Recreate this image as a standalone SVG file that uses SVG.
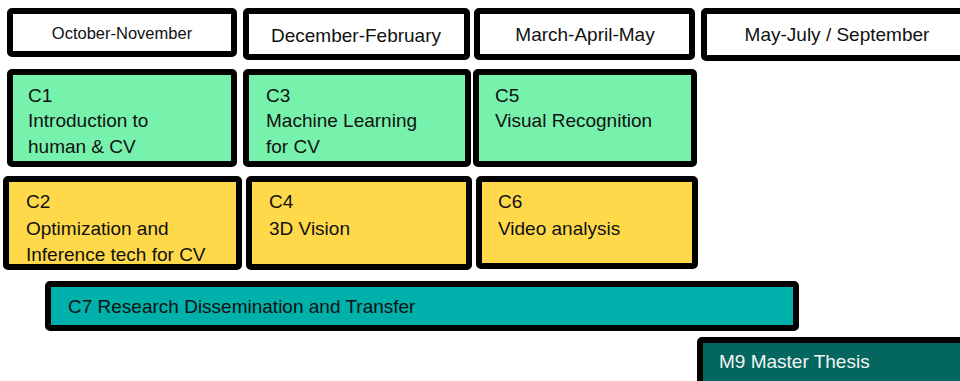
<svg xmlns="http://www.w3.org/2000/svg" width="960" height="381" viewBox="0 0 960 381">
<style>
.box{stroke:#000;stroke-width:6;stroke-linejoin:round}
.hdr{fill:#fff}
.g{fill:#77f2ad}
.y{fill:#ffd94a}
.t{fill:#00b0aa}
.m{fill:#03665f}
text{font-family:"Liberation Sans",Arial,sans-serif;font-size:19px;fill:#111}
.c{text-anchor:middle}
.w{fill:#f4f4f4}
</style>
<rect width="960" height="381" fill="#fff"/>
<g id="h1"><rect class="box hdr" x="10" y="11" width="224" height="43" rx="2"/><text class="c" x="122" y="39" style="font-size:16.5px">October-November</text></g>
<g id="h2"><rect class="box hdr" x="246" y="11" width="221" height="46" rx="2"/><text class="c" x="356" y="42">December-February</text></g>
<g id="h3"><rect class="box hdr" x="477" y="11" width="215" height="46" rx="2"/><text class="c" x="585" y="41">March-April-May</text></g>
<g id="h4"><rect class="box hdr" x="704" y="11" width="262" height="47" rx="2"/><text class="c" x="837" y="41">May-July / September</text></g>

<g id="c1"><rect class="box g" x="10" y="72" width="224" height="92" rx="2"/><text x="28" y="102">C1</text><text x="28" y="127">Introduction to</text><text x="28" y="153">human &amp; CV</text></g>
<g id="c3"><rect class="box g" x="246" y="72" width="222" height="92" rx="2"/><text x="266" y="102">C3</text><text x="266" y="127">Machine Learning</text><text x="266" y="153">for CV</text></g>
<g id="c5"><rect class="box g" x="476" y="72" width="218" height="92" rx="2"/><text x="495" y="102">C5</text><text x="495" y="127">Visual Recognition</text></g>

<g id="c2"><rect class="box y" x="6" y="179" width="233" height="88" rx="2"/><text x="26" y="208">C2</text><text x="26" y="235">Optimization and</text><text x="26" y="261">Inference tech for CV</text></g>
<g id="c4"><rect class="box y" x="249" y="179" width="220" height="88" rx="2"/><text x="269" y="208">C4</text><text x="269" y="235">3D Vision</text></g>
<g id="c6"><rect class="box y" x="479" y="179" width="216" height="87" rx="2"/><text x="498" y="208">C6</text><text x="498" y="235">Video analysis</text></g>

<g id="c7"><rect class="box t" x="48" y="284" width="748" height="44" rx="2"/><text x="68" y="313">C7 Research Dissemination and Transfer</text></g>
<g id="m9"><rect class="box m" x="700" y="340" width="266" height="50" rx="2"/><text class="w" x="719" y="368">M9 Master Thesis</text></g>
<g id="connectors"/>
</svg>
